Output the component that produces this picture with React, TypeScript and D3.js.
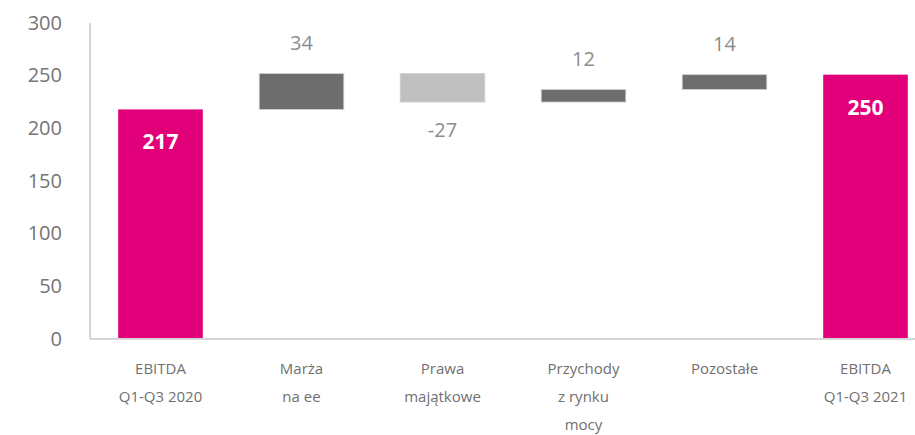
import React from "react";
import * as d3 from "d3";

const categories: string[][] = [
  ["EBITDA", "Q1-Q3 2020"],
  ["Marża", "na ee"],
  ["Prawa", "majątkowe"],
  ["Przychody", "z rynku", "mocy"],
  ["Pozostałe"],
  ["EBITDA", "Q1-Q3 2021"],
];
const deltas: number[] = [217, 34, -27, 12, 14, 250];
const kinds: string[] = ["total", "up", "down", "up", "up", "total"];
const yTicks: number[] = [0, 50, 100, 150, 200, 250, 300];

const W = 915;
const H = 435;

export default function App() {
  const x = d3
    .scaleBand<number>()
    .domain(d3.range(categories.length))
    .range([90, 936])
    .paddingInner(0.4)
    .paddingOuter(0.2);
  const y = d3.scaleLinear().domain([0, 300]).range([338, 22]);

  let run = 0;
  const bars = deltas.map((d, i) => {
    let lo: number, hi: number;
    if (kinds[i] === "total") {
      lo = 0;
      hi = d;
      run = d;
    } else {
      const start = run;
      run = run + d;
      lo = Math.min(start, run);
      hi = Math.max(start, run);
    }
    return { i, d, lo, hi, kind: kinds[i] };
  });

  const colorOf = (k: string) =>
    k === "total" ? "#E2007A" : k === "down" ? "#C0C0C0" : "#6D6D6D";

  const font = "'Open Sans', 'DejaVu Sans', sans-serif";

  return (
    <svg
      width={W}
      height={H}
      style={{ position: "absolute", left: 0, top: 0, background: "#fff" }}
    >
      {yTicks.map((t) => (
        <text
          key={t}
          x={62}
          y={y(t)}
          textAnchor="end"
          dominantBaseline="central"
          fontFamily={font}
          fontSize={20}
          fill="#757575"
        >
          {t}
        </text>
      ))}
      <line x1={90} x2={90} y1={23} y2={339} stroke="#c8c8c8" strokeWidth={1.5} />
      <line x1={90} x2={915} y1={339} y2={339} stroke="#c8c8c8" strokeWidth={1.5} />
      {bars.map((b) => {
        const bx = x(b.i)!;
        const bw = x.bandwidth();
        const top = y(b.hi);
        const bot = y(b.lo);
        const cx = bx + bw / 2;
        return (
          <g key={b.i}>
            <rect
              x={bx}
              y={top}
              width={bw}
              height={bot - top}
              fill={colorOf(b.kind)}
              stroke={b.kind === "total" ? "none" : "#d0d0d0"}
              strokeWidth={b.kind === "total" ? 0 : 0.8}
            />
            {b.kind === "total" ? (
              <text
                x={cx}
                y={top + 32}
                textAnchor="middle"
                dominantBaseline="central"
                fontFamily={font}
                fontWeight={700}
                fontSize={21}
                fill="#ffffff"
              >
                {b.d}
              </text>
            ) : b.kind === "down" ? (
              <text
                x={cx}
                y={bot + 27}
                textAnchor="middle"
                dominantBaseline="central"
                fontFamily={font}
                fontSize={20}
                fill="#8c8c8c"
              >
                {b.d}
              </text>
            ) : (
              <text
                x={cx}
                y={top - 31}
                textAnchor="middle"
                dominantBaseline="central"
                fontFamily={font}
                fontSize={20}
                fill="#8c8c8c"
              >
                {b.d}
              </text>
            )}
            {categories[b.i].map((line, li) => (
              <text
                key={li}
                x={cx}
                y={368 + li * 28}
                textAnchor="middle"
                dominantBaseline="central"
                fontFamily={font}
                fontSize={15}
                fill="#707070"
              >
                {line}
              </text>
            ))}
          </g>
        );
      })}
    </svg>
  );
}
